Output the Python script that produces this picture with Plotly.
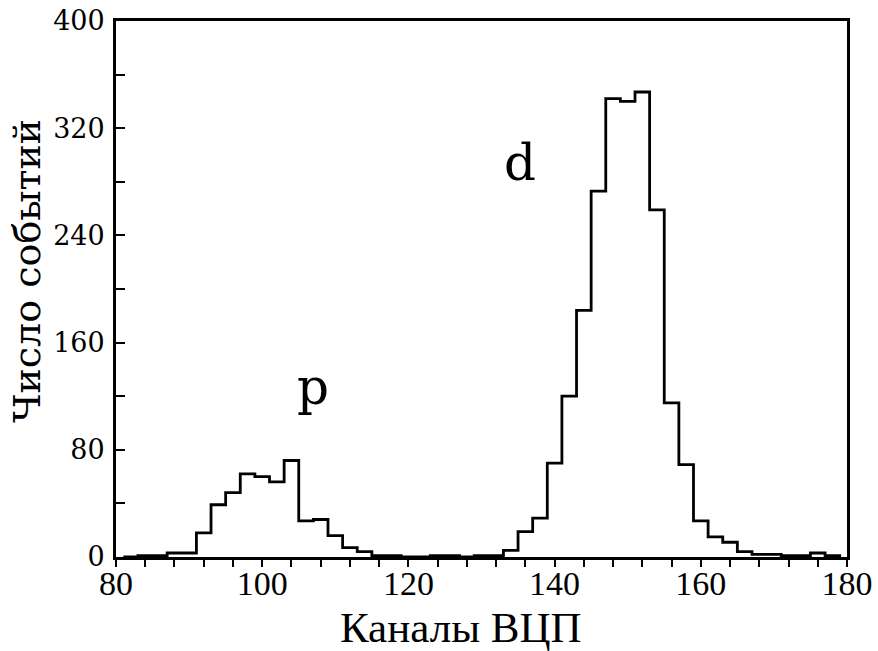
import plotly.graph_objects as go

# ADC channel histogram: bins of width 2 centred on even channels
channels = [82, 84, 86, 88, 90, 92, 94, 96, 98, 100, 102, 104, 106, 108, 110,
            112, 114, 116, 118, 120, 122, 124, 126, 128, 130, 132, 134, 136,
            138, 140, 142, 144, 146, 148, 150, 152, 154, 156, 158, 160, 162,
            164, 166, 168, 170, 172, 174, 176, 178]
counts = [0, 1, 1, 3, 3, 18, 39, 48, 62, 60, 56, 72, 27, 28, 16,
          7, 4, 1, 1, 0, 0, 1, 1, 0, 1, 1, 5, 19,
          29, 70, 120, 184, 273, 342, 340, 347, 259, 115, 69, 27, 15,
          11, 4, 2, 2, 1, 1, 3, 1]
bin_width = 2

x_range = [80, 180]
y_range = [0, 400]
x_ticks = [80, 100, 120, 140, 160, 180]
y_ticks = [0, 80, 160, 240, 320, 400]

peak_labels = ["p", "d"]
peak_x = [107.0, 135.3]
peak_y = [127, 294]

# step outline built from the bin edges
edges = [c - bin_width / 2 for c in channels] + [channels[-1] + bin_width / 2]
step_y = counts + [counts[-1]]
edges = edges + [edges[-1]]
step_y = step_y + [0]

fig = go.Figure()
fig.add_trace(go.Scatter(
    x=edges, y=step_y, mode="lines", line_shape="hv",
    line=dict(color="black", width=2.8), showlegend=False,
    hoverinfo="skip",
))

for lab, px, py in zip(peak_labels, peak_x, peak_y):
    fig.add_annotation(x=px, y=py, text=lab, showarrow=False,
                       font=dict(family="DejaVu Serif", size=50, color="black"))

fig.add_annotation(xref="paper", yref="paper", x=0.472, y=-0.132,
                   text="Каналы ВЦП", showarrow=False,
                   xanchor="center", yanchor="middle",
                   font=dict(family="Liberation Serif", size=43, color="black"))
fig.add_annotation(xref="paper", yref="paper", x=-0.121, y=0.533,
                   text="Число событий", showarrow=False, textangle=-90,
                   xanchor="center", yanchor="middle",
                   font=dict(family="DejaVu Serif", size=38, color="black"))

fig.update_xaxes(
    range=x_range, tickvals=x_ticks, ticktext=[str(v) for v in x_ticks],
    showgrid=False, zeroline=False, automargin=False,
    showline=True, mirror=True, linecolor="black", linewidth=2.8,
    ticks="outside", ticklen=7, tickwidth=1.8, tickcolor="black",
    minor=dict(dtick=4, tick0=80, ticks="outside", ticklen=7,
               tickwidth=1.8, tickcolor="black", showgrid=False),
    tickfont=dict(family="Liberation Serif", size=34, color="black"),
    ticklabeloverflow="allow", ticklabelstandoff=-13,
)
fig.update_yaxes(
    range=y_range, tickvals=y_ticks, ticktext=[str(v) for v in y_ticks],
    showgrid=False, zeroline=False, automargin=False,
    showline=True, mirror=True, linecolor="black", linewidth=2.8,
    ticks="inside", ticklen=9, tickwidth=1.8, tickcolor="black",
    minor=dict(dtick=40, tick0=0, ticks="inside", ticklen=9,
               tickwidth=1.8, tickcolor="black", showgrid=False),
    tickfont=dict(family="DejaVu Serif", size=27, color="black"),
    ticklabeloverflow="allow", ticklabelstandoff=3,
)

fig.update_layout(
    width=878, height=651,
    margin=dict(l=116, r=31, t=21, b=94),
    plot_bgcolor="white", paper_bgcolor="white",
)

fig.write_html("out.html")
